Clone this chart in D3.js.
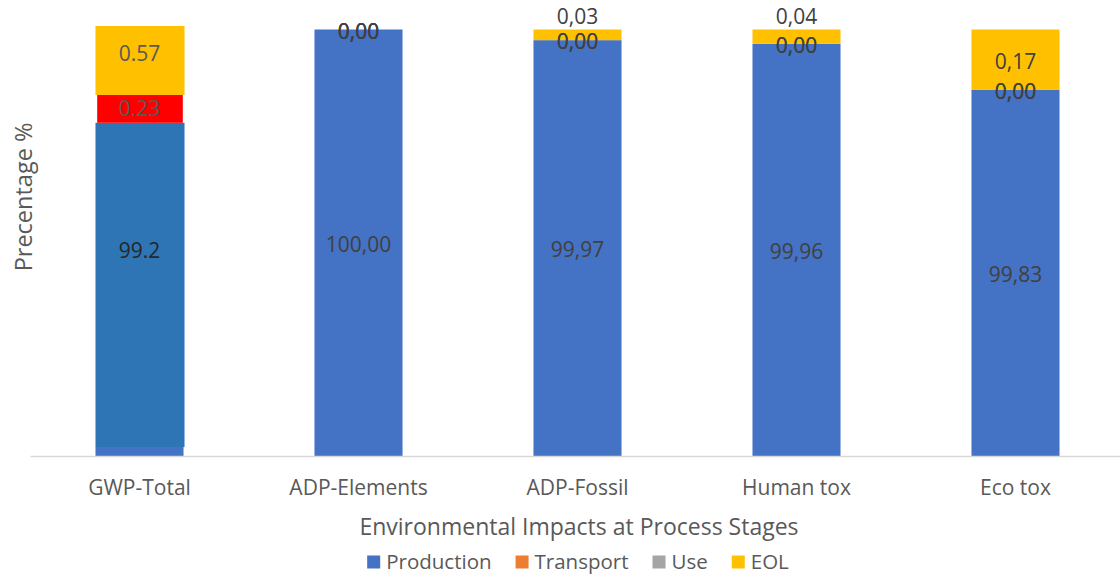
<!DOCTYPE html>
<html>
<head>
<meta charset="utf-8">
<script src="https://cdn.jsdelivr.net/npm/d3@7"></script>
<style>
  html, body { margin: 0; padding: 0; background: #ffffff; }
  svg { display: block; font-family: "Open Sans", sans-serif; }
</style>
</head>
<body>
<svg id="chart" width="1120" height="576"></svg>
<script>
// ---- data (percent share of each life-cycle stage) ----
const categories = ["GWP-Total", "ADP-Elements", "ADP-Fossil", "Human tox", "Eco tox"];
const production = [99.2, 100.00, 99.97, 99.96, 99.83];
const transport  = [0.23, 0.00, 0.00, 0.00, 0.00];
const use        = [0.00, 0.00, 0.00, 0.00, 0.00];
const eol        = [0.57, 0.00, 0.03, 0.04, 0.17];

const seriesNames  = ["Production", "Transport", "Use", "EOL"];
const seriesColors = ["#4472C4", "#ED7D31", "#A5A5A5", "#FFC000"];
// colours of the enlarged GWP-Total column
const detailColors = ["#2E75B6", "#FF0000", "#A5A5A5", "#FFC000"];

const xTitle = "Environmental Impacts at Process Stages";
const yTitle = "Precentage %";

// value axis is truncated so the small stage shares stay visible
const yDomain = [98.8, 100];
const detailDomain = [96.52, 100];

// ---- layout ----
const plot = { left: 30, right: 1125, top: 29.5, bottom: 456 };

const svg = d3.select("#chart");

const rows = categories.map((c, i) => ({
  category: c,
  Production: production[i],
  Transport: transport[i],
  Use: use[i],
  EOL: eol[i]
}));
const stacked = d3.stack().keys(seriesNames)(rows);

const x = d3.scaleBand()
  .domain(categories)
  .range([plot.left, plot.right])
  .paddingInner(0.598)
  .paddingOuter(0.299);

const y = d3.scaleLinear()
  .domain(yDomain)
  .range([plot.bottom, plot.top])
  .clamp(true);

const color = d3.scaleOrdinal().domain(seriesNames).range(seriesColors);
const detailColor = d3.scaleOrdinal().domain(seriesNames).range(detailColors);

const commaLocale = d3.formatLocale({ decimal: ",", thousands: ".", grouping: [3], currency: ["", "€"] });
const fmtMain = commaLocale.format(".2f");
const fmtDetail = d3.format("");

// ---- stacked columns ----
const layers = svg.append("g").attr("class", "bars")
  .selectAll("g")
  .data(stacked)
  .join("g")
  .attr("fill", d => color(d.key));

layers.selectAll("rect")
  .data(d => d)
  .join("rect")
  .attr("x", d => x(d.data.category))
  .attr("width", x.bandwidth())
  .attr("y", d => y(d[1]))
  .attr("height", d => Math.max(0, y(d[0]) - y(d[1])));

// ---- x axis ----
const xAxis = svg.append("g")
  .attr("transform", `translate(0,${plot.bottom})`)
  .call(d3.axisBottom(x).tickSize(0).tickPadding(24));
xAxis.select(".domain").attr("stroke", "#D9D9D9").attr("stroke-width", 1.5);
xAxis.selectAll("text")
  .attr("fill", "#595959")
  .style("font-family", "\"Open Sans\", sans-serif")
  .style("font-size", "21px");

// ---- data labels on the columns (all but the enlarged first one) ----
const labelLayer = svg.append("g").attr("class", "labels")
  .style("font-size", "21px").attr("fill", "#404040").attr("text-anchor", "middle");

stacked.forEach(layer => {
  layer.forEach((d, i) => {
    if (i === 0) return;
    const v = d[1] - d[0];
    const top = y(d[1]), bottom = y(d[0]);
    let cy = (top + bottom) / 2;
    // tiny end-of-life slices get their label above the column
    if (layer.key === "EOL" && v > 0 && bottom - top < 22) cy = y(100) - 15;
    labelLayer.append("text")
      .attr("x", x(d.data.category) + x.bandwidth() / 2)
      .attr("y", cy + 1.5)
      .attr("dy", "0.36em")
      .text(fmtMain(v));
  });
});

// ---- enlarged GWP-Total column drawn on its own value scale ----
const gwp = categories[0];
const yDetail = d3.scaleLinear()
  .domain(detailDomain)
  .range([447, 26]);

const detail = svg.append("g").attr("class", "detail");
detail.append("rect")
  .attr("x", x(gwp) - 0.5)
  .attr("width", x.bandwidth() + 1.5)
  .attr("y", yDetail(detailDomain[1]))
  .attr("height", yDetail(detailDomain[0]) - yDetail(detailDomain[1]))
  .attr("fill", "#ffffff");

stacked.forEach(layer => {
  const d = layer[0];
  const v = d[1] - d[0];
  if (v <= 0) return;
  const inset = layer.key === "Transport" ? 1.7 : 0;
  detail.append("rect")
    .attr("x", x(gwp) + inset)
    .attr("width", x.bandwidth() + 1 - 2 * inset)
    .attr("y", yDetail(d[1]))
    .attr("height", yDetail(Math.max(d[0], detailDomain[0])) - yDetail(d[1]))
    .attr("fill", detailColor(layer.key));
});

stacked.forEach(layer => {
  const d = layer[0];
  const v = d[1] - d[0];
  if (v <= 0) return;
  let cy = (yDetail(d[1]) + yDetail(Math.max(d[0], detailDomain[0]))) / 2;
  if (layer.key === "Production") cy = (y(yDomain[0]) + y(yDomain[1])) / 2 + 8;
  if (layer.key === "EOL") cy -= 7;
  detail.append("text")
    .attr("x", x(gwp) + x.bandwidth() / 2)
    .attr("y", cy)
    .attr("dy", "0.36em")
    .attr("text-anchor", "middle")
    .style("font-size", "21px")
    .attr("fill", layer.key === "Production" ? "#262626" : "#595959")
    .text(fmtDetail(v));
});

// ---- axis titles ----
svg.append("text")
  .attr("x", 579).attr("y", 527).attr("dy", "0.36em")
  .attr("text-anchor", "middle")
  .attr("fill", "#595959")
  .style("font-size", "23px")
  .text(xTitle);

svg.append("text")
  .attr("transform", "translate(24,197) rotate(-90)")
  .attr("dy", "0.36em")
  .attr("text-anchor", "middle")
  .attr("fill", "#595959")
  .style("font-size", "23.5px")
  .text(yTitle);

// ---- legend ----
const legend = svg.append("g").attr("class", "legend");
const items = legend.selectAll("g").data(seriesNames).join("g");
items.append("rect")
  .attr("width", 13).attr("height", 13)
  .attr("y", -6.5)
  .attr("fill", d => color(d));
items.append("text")
  .attr("x", 19).attr("dy", "0.36em")
  .attr("fill", "#595959")
  .style("font-size", "20.5px")
  .text(d => d);

let cursor = 0;
const offsets = [];
items.each(function () {
  offsets.push(cursor);
  const w = d3.select(this).select("text").node().getComputedTextLength();
  cursor += 19 + w + 24;
});
const total = cursor - 24;
const startX = 578 - total / 2;
items.attr("transform", (d, i) => `translate(${startX + offsets[i]},562)`);
</script>
</body>
</html>
